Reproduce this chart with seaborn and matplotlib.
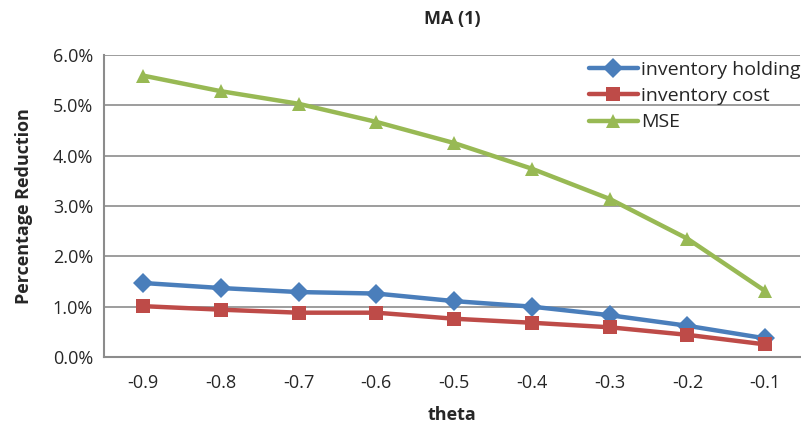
import seaborn as sns
import matplotlib.pyplot as plt
import pandas as pd
import numpy as np

# ----------------------------
# Data (percent)
# ----------------------------
theta = [-0.9, -0.8, -0.7, -0.6, -0.5, -0.4, -0.3, -0.2, -0.1]
inventory_holding = [1.47, 1.37, 1.29, 1.26, 1.11, 1.00, 0.83, 0.62, 0.37]
inventory_cost = [1.01, 0.94, 0.88, 0.88, 0.76, 0.68, 0.59, 0.44, 0.25]
mse = [5.59, 5.28, 5.03, 4.67, 4.25, 3.74, 3.14, 2.35, 1.31]

series = ["inventory holding", "inventory cost", "MSE"]
colors = ["#4A7EBB", "#BE4B48", "#98B954"]
markers = ["D", "s", "^"]

df = pd.DataFrame({
    "theta": theta * 3,
    "value": inventory_holding + inventory_cost + mse,
    "series": sum([[s] * len(theta) for s in series], []),
})

# ----------------------------
# Plot
# ----------------------------
sns.set_style("white")
plt.rcParams["font.family"] = ["Open Sans", "DejaVu Sans"]

fig = plt.figure(figsize=(8.01, 4.26), dpi=100)
ax = fig.add_axes([0.13, 0.162, 0.869, 0.709])

sns.lineplot(
    data=df, x="theta", y="value", hue="series", style="series",
    palette=colors, markers=markers, dashes=False, linewidth=3.2,
    markersize=10, markeredgewidth=0, ax=ax,
)

# right edge of the plot area is cut off slightly past the last category
ax.set_xlim(-0.95, -0.055)
ax.set_ylim(0, 6)
ax.set_xticks(theta)
ax.set_xticklabels([f"{t:.1f}" for t in theta], fontsize=13)
ax.set_yticks(np.arange(0, 7, 1))
ax.set_yticklabels([f"{v:.1f}%" for v in range(7)], fontsize=13)
ax.yaxis.grid(True, color="#8c8c8c", linewidth=1.2)
ax.set_axisbelow(True)
for side in ["top", "right"]:
    ax.spines[side].set_visible(False)
for side in ["left", "bottom"]:
    ax.spines[side].set_color("#8c8c8c")
    ax.spines[side].set_linewidth(1.5)
ax.tick_params(axis="x", length=0, pad=12)
ax.tick_params(axis="y", length=0, pad=8)

ax.set_title("MA (1)", fontsize=13, weight="bold", pad=22)
ax.set_xlabel("theta", fontsize=13, weight="bold", labelpad=10)
ax.set_ylabel("Percentage Reduction", fontsize=13, weight="bold", labelpad=14)

leg = ax.legend(loc="upper right", bbox_to_anchor=(1.0, 0.98), frameon=False,
                fontsize=14, handlelength=2.5, handletextpad=0.15,
                labelspacing=0.42, borderaxespad=0, borderpad=0)

plt.savefig("out.png", dpi=100)
plt.close()
